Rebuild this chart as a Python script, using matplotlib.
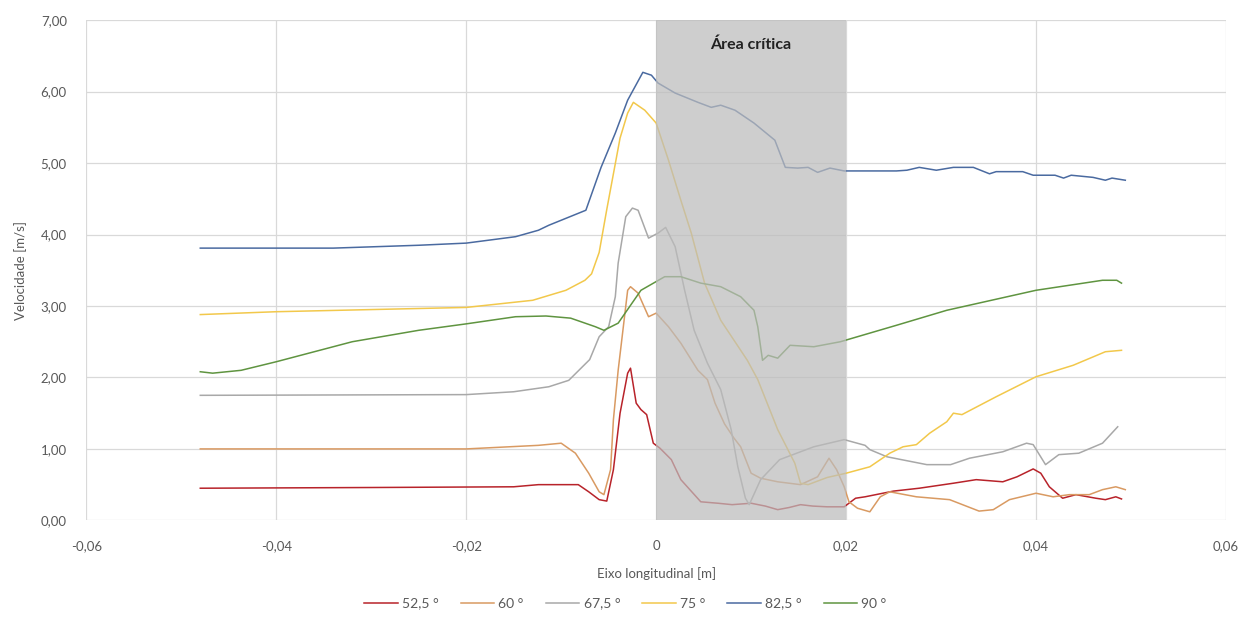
# plot.py
# Velocity along the longitudinal axis for six angles, critical area shaded.

import matplotlib
matplotlib.use("Agg")
import matplotlib.pyplot as plt
from matplotlib.ticker import FuncFormatter

plt.rcParams['font.family'] = ['Lato', 'DejaVu Sans']

# --- data ---
labels = ["52,5 °", "60 °", "67,5 °", "75 °", "82,5 °", "90 °"]
colors = ["#b8232a", "#d99a62", "#a8a8a8", "#f2c84b", "#4a6aa0", "#5f9440"]

x_525 = [-0.048, -0.03, -0.015, -0.0124, -0.0082, -0.0071, -0.006, -0.0052, -0.0045, -0.0038,
         -0.003, -0.0027, -0.0021, -0.0016, -0.001, -0.0003, 0.0004, 0.0016, 0.0026, 0.0047,
         0.0065, 0.008, 0.010, 0.0115, 0.0128, 0.014, 0.0152, 0.0165, 0.018, 0.0198, 0.021,
         0.022, 0.025, 0.0277, 0.0313, 0.0337, 0.0365, 0.038, 0.0397, 0.0405, 0.0414, 0.0428,
         0.0442, 0.0463, 0.0473, 0.0484, 0.049]
y_525 = [0.45, 0.46, 0.47, 0.50, 0.50, 0.40, 0.29, 0.27, 0.71, 1.50,
         2.06, 2.13, 1.64, 1.55, 1.48, 1.08, 1.01, 0.85, 0.57, 0.26,
         0.24, 0.22, 0.24, 0.20, 0.15, 0.18, 0.22, 0.20, 0.19, 0.19, 0.31,
         0.33, 0.41, 0.45, 0.52, 0.57, 0.54, 0.61, 0.72, 0.66, 0.47, 0.31,
         0.36, 0.31, 0.29, 0.33, 0.30]

x_60 = [-0.048, -0.02, -0.0124, -0.01, -0.0085, -0.0071, -0.006, -0.0055, -0.0048, -0.0045,
        -0.004, -0.003, -0.0027, -0.0019, -0.0008, 0.0, 0.0013, 0.0026, 0.0044, 0.0054,
        0.0062, 0.0072, 0.0082, 0.0089, 0.010, 0.011, 0.0128, 0.0152, 0.017, 0.0182, 0.019,
        0.0198, 0.0203, 0.0212, 0.0225, 0.0236, 0.0246, 0.0274, 0.0309, 0.034, 0.0355,
        0.0372, 0.040, 0.0418, 0.0435, 0.0456, 0.047, 0.0484, 0.0494]
y_60 = [1.00, 1.00, 1.05, 1.08, 0.94, 0.66, 0.40, 0.36, 0.71, 1.41,
        2.10, 3.22, 3.27, 3.18, 2.85, 2.90, 2.71, 2.48, 2.10, 1.97,
        1.64, 1.35, 1.15, 1.03, 0.66, 0.59, 0.54, 0.50, 0.61, 0.87, 0.71,
        0.47, 0.26, 0.17, 0.12, 0.33, 0.40, 0.33, 0.29, 0.13, 0.15,
        0.29, 0.38, 0.33, 0.36, 0.36, 0.43, 0.47, 0.43]

x_675 = [-0.048, -0.02, -0.015, -0.0113, -0.0092, -0.007, -0.006, -0.005, -0.0043, -0.004,
         -0.0032, -0.0025, -0.0019, -0.0008, 0.0002, 0.001, 0.002, 0.003, 0.004, 0.0054,
         0.0068, 0.0079, 0.0086, 0.0094, 0.0098, 0.011, 0.013, 0.0166, 0.0198, 0.022,
         0.0225, 0.0243, 0.0285, 0.031, 0.033, 0.0365, 0.039, 0.0397, 0.041, 0.0424,
         0.0445, 0.047, 0.0486]
y_675 = [1.75, 1.76, 1.80, 1.87, 1.96, 2.25, 2.57, 2.71, 3.13, 3.60,
         4.25, 4.37, 4.34, 3.95, 4.02, 4.10, 3.83, 3.22, 2.66, 2.20,
         1.83, 1.27, 0.75, 0.31, 0.22, 0.57, 0.85, 1.03, 1.13, 1.05,
         0.99, 0.89, 0.78, 0.78, 0.87, 0.96, 1.08, 1.06, 0.78, 0.92,
         0.94, 1.08, 1.31]

x_75 = [-0.048, -0.04, -0.02, -0.013, -0.0095, -0.0075, -0.0068, -0.006, -0.0052, -0.0045,
        -0.0038, -0.003, -0.0024, -0.0012, 0.0, 0.0013, 0.0026, 0.0037, 0.0051, 0.0068,
        0.0096, 0.0107, 0.0128, 0.0146, 0.0152, 0.016, 0.018, 0.020, 0.0225, 0.0246,
        0.026, 0.0274, 0.0288, 0.0306, 0.0313, 0.0322, 0.0358, 0.040, 0.0439, 0.0473, 0.049]
y_75 = [2.88, 2.92, 2.98, 3.08, 3.22, 3.36, 3.45, 3.75, 4.35, 4.85,
        5.35, 5.70, 5.85, 5.74, 5.56, 5.04, 4.48, 4.02, 3.32, 2.80,
        2.24, 1.97, 1.27, 0.80, 0.52, 0.50, 0.60, 0.66, 0.75, 0.94,
        1.03, 1.06, 1.22, 1.38, 1.50, 1.48, 1.73, 2.01, 2.17, 2.36, 2.38]

x_825 = [-0.048, -0.034, -0.025, -0.02, -0.0148, -0.0124, -0.0113, -0.0074, -0.0058, -0.0043,
         -0.003, -0.0014, -0.0005, 0.0002, 0.002, 0.0044, 0.0058, 0.0068, 0.0083, 0.0103,
         0.0125, 0.0136, 0.0149, 0.016, 0.017, 0.0183, 0.0198, 0.0253, 0.0264, 0.0277,
         0.0295, 0.0313, 0.0334, 0.0351, 0.0358, 0.0386, 0.0397, 0.042, 0.0429, 0.0437,
         0.046, 0.0473, 0.048, 0.0494]
y_825 = [3.81, 3.81, 3.85, 3.88, 3.97, 4.06, 4.13, 4.34, 4.94, 5.42,
         5.88, 6.27, 6.23, 6.12, 5.98, 5.85, 5.78, 5.81, 5.74, 5.56,
         5.32, 4.94, 4.93, 4.94, 4.87, 4.93, 4.89, 4.89, 4.90, 4.94,
         4.90, 4.94, 4.94, 4.85, 4.88, 4.88, 4.83, 4.83, 4.79, 4.83,
         4.80, 4.76, 4.79, 4.76]

x_90 = [-0.048, -0.0467, -0.0437, -0.040, -0.032, -0.025, -0.020, -0.0148, -0.0116, -0.009,
        -0.0064, -0.0055, -0.004, -0.0016, 0.0009, 0.0026, 0.0047, 0.0068, 0.0089, 0.0103,
        0.0107, 0.0112, 0.0118, 0.0128, 0.0141, 0.0166, 0.0194, 0.0253, 0.0306, 0.040,
        0.047, 0.0485, 0.049]
y_90 = [2.08, 2.06, 2.10, 2.22, 2.50, 2.66, 2.75, 2.85, 2.86, 2.83,
        2.71, 2.66, 2.76, 3.22, 3.41, 3.41, 3.32, 3.27, 3.13, 2.94,
        2.71, 2.24, 2.31, 2.27, 2.45, 2.43, 2.50, 2.73, 2.94, 3.22,
        3.36, 3.36, 3.32]

crit_start, crit_end = 0.0, 0.02


def comma_fmt(v, pos):
    # Excel-style decimal comma; zero on x shown bare
    if abs(v) < 1e-12:
        return "0"
    return f"{v:.2f}".replace(".", ",")


fig = plt.figure(figsize=(12.51, 6.30), dpi=100)
ax = fig.add_axes([0.069, 0.174, 0.911, 0.794])

series = [(x_525, y_525), (x_60, y_60), (x_675, y_675),
          (x_75, y_75), (x_825, y_825), (x_90, y_90)]
for (xs, ys), lab, c in zip(series, labels, colors):
    ax.plot(xs, ys, color=c, lw=1.1, label=lab, zorder=2)

# critical area drawn over the lines, like the original
ax.axvspan(crit_start, crit_end, color="#bcbcbc", alpha=0.72, lw=0, zorder=3)
ax.text((crit_start + crit_end) / 2, 6.66, "Área crítica", ha="center", va="center",
        fontsize=11.5, fontweight="bold", color="#222222", zorder=4)

ax.set_xlim(-0.06, 0.06)
ax.set_ylim(0, 7)
ax.set_xticks([-0.06, -0.04, -0.02, 0, 0.02, 0.04, 0.06])
ax.set_yticks(range(8))
ax.xaxis.set_major_formatter(FuncFormatter(comma_fmt))
ax.yaxis.set_major_formatter(FuncFormatter(lambda v, p: f"{v:.2f}".replace(".", ",")))

ax.grid(True, color="#d9d9d9", lw=0.9, zorder=0)
ax.set_axisbelow(True)
for s in ax.spines.values():
    s.set_visible(False)
ax.tick_params(length=0, labelsize=9.5, colors="#595959")
ax.tick_params(axis="x", pad=14)
ax.tick_params(axis="y", pad=14)

ax.set_xlabel("Eixo longitudinal [m]", fontsize=9.5, color="#595959", labelpad=11)
ax.set_ylabel("Velocidade [m/s]", fontsize=9.5, color="#595959", labelpad=10)

fig.legend(loc="center", bbox_to_anchor=(0.5, 0.042), ncol=6, frameon=False,
           fontsize=10, handlelength=2.4, columnspacing=1.6, handletextpad=0.3,
           labelcolor="#595959")

plt.savefig("out.png", dpi=100)
